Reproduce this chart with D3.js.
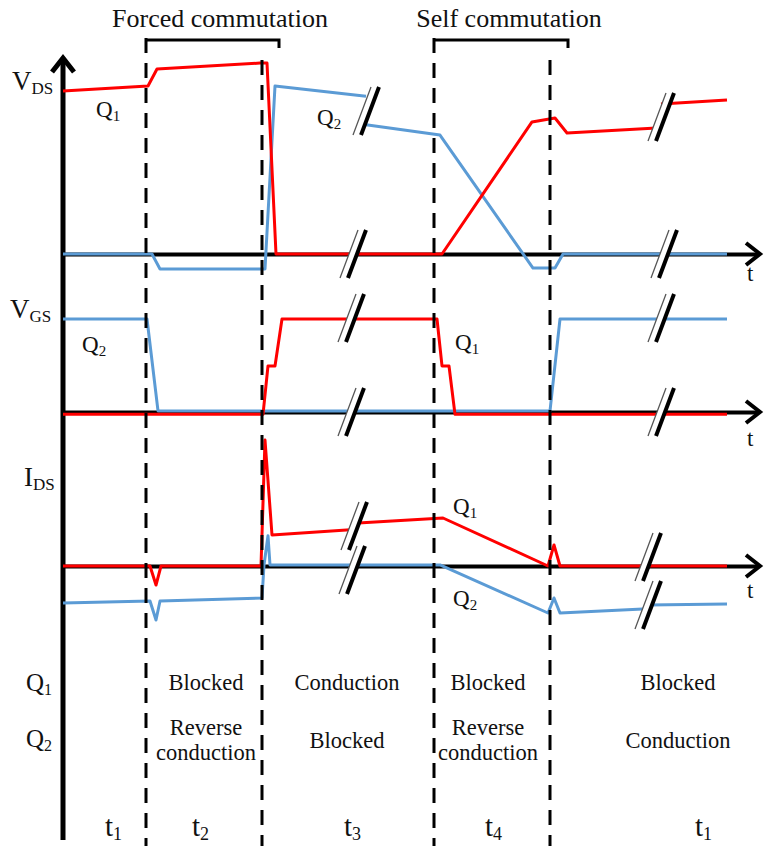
<!DOCTYPE html>
<html>
<head>
<meta charset="utf-8">
<script src="https://cdn.jsdelivr.net/npm/d3@7/dist/d3.min.js"></script>
<style>
  body { margin: 0; background: #fff; }
</style>
</head>
<body>
<svg id="chart" width="765" height="846"></svg>
<script>
// time in arbitrary units, 0 = vertical axis; null value = gap (axis break)
const vdsQ1 = [[0,0.858],[85,0.884],[94,0.974],[197,1.005],[204,1.005],[213,0],[379,0],[469,0.695],[492,0.716],[504,0.637],[598,0.664],[598,null],[598,0.79],[664,0.811]];
const vdsQ2 = [[0,0],[89,0],[97,-0.079],[202,-0.079],[212,0.884],[303,0.83],[303,null],[303,0.68],[377,0.626],[470,-0.074],[492,-0.074],[500,0],[664,0]];

const vgsQ1 = [[0,-0.025],[200,-0.025],[205,0.495],[212,0.495],[219,1],[374,1],[379,0.495],[386,0.495],[392,-0.025],[664,-0.025]];
const vgsQ2 = [[0,1],[84,1],[95,0.012],[487,0.012],[497,1],[664,1]];

const idsQ1 = [[0,0],[87,0],[93,-0.151],[98,0],[198,0],[202,1],[209,0.246],[291,0.29],[291,null],[291,0.34],[380,0.381],[485,0],[491,0.167],[497,0],[664,0]];
const idsQ2 = [[0,-0.294],[87,-0.278],[93,-0.429],[97,-0.278],[199,-0.254],[201,0.008],[205,0.24],[207,0.008],[377,0.008],[485,-0.373],[491,-0.254],[497,-0.373],[585,-0.34],[585,null],[585,-0.31],[664,-0.302]];

// axis breaks: panel, time, value
const breaks = [
  ['vds',303,0.753],['vds',290,0],['vds',598,0.721],['vds',601,0],
  ['vgs',288,1.01],['vgs',288,0],['vgs',598,1.01],['vgs',598,0],
  ['ids',291,0.317],['ids',289,-0.032],['ids',585,0.071],['ids',585,-0.31]
];

// phase boundaries (dashed lines) and commutation brackets
const boundaries = [83, 199, 371, 487];
const brackets = [
  {label: 'Forced commutation', from: 83, to: 216, mid: 157},
  {label: 'Self commutation', from: 371, to: 505, mid: 446}
];

// state table
const phaseLabels = ['1','2','3','4','1'];
const phaseCenters = [50, 137, 289, 430, 640];
const stateCenters = [null, 143, 284, 425, 615];
const q1States = ['', 'Blocked', 'Conduction', 'Blocked', 'Blocked'];
const q2States = [[], ['Reverse','conduction'], ['Blocked'], ['Reverse','conduction'], ['Conduction']];

const RED = '#ff0000', BLUE = '#5b9bd5';
const FONT = "'Liberation Serif', 'Times New Roman', 'DejaVu Serif', serif";

const svg = d3.select('#chart').attr('font-family', FONT);
const x = d3.scaleLinear().domain([0, 700]).range([63, 763]);
const y = {
  vds: d3.scaleLinear().domain([0, 1]).range([254, 64]),
  vgs: d3.scaleLinear().domain([0, 1]).range([412, 319]),
  ids: d3.scaleLinear().domain([0, 1]).range([566, 440])
};

function label(px, py, size) {
  return svg.append('text').attr('x', px).attr('y', py)
    .attr('font-family', FONT).attr('font-size', size).attr('fill', '#111');
}

// time axes
Object.keys(y).forEach(k => {
  const y0 = y[k](0);
  const ax = svg.append('g')
    .attr('transform', `translate(0,${y0})`)
    .call(d3.axisBottom(x.copy().range([63, 757])).ticks(0).tickSizeOuter(0));
  ax.select('.domain').attr('stroke', '#000').attr('stroke-width', 4);
  svg.append('path')
    .attr('d', `M746,${y0 - 11}L760,${y0}L746,${y0 + 11}`)
    .attr('fill', 'none').attr('stroke', '#000').attr('stroke-width', 4);
});
label(747, 281, 23).text('t');
label(747, 446, 23).text('t');
label(747, 598, 23).text('t');

// vertical axis
svg.append('line').attr('x1', 63).attr('x2', 63).attr('y1', 60).attr('y2', 840)
  .attr('stroke', '#000').attr('stroke-width', 5);
svg.append('path').attr('d', 'M52,72L63,58L74,72')
  .attr('fill', 'none').attr('stroke', '#000').attr('stroke-width', 5);

// curves
function drawCurve(data, panel, color) {
  const line = d3.line()
    .defined(d => d[1] !== null)
    .x(d => x(d[0]))
    .y(d => y[panel](d[1]));
  svg.append('path').datum(data)
    .attr('d', line)
    .attr('fill', 'none')
    .attr('stroke', color)
    .attr('stroke-width', 3)
    .attr('stroke-linejoin', 'round');
}
drawCurve(vdsQ2, 'vds', BLUE);
drawCurve(vdsQ1, 'vds', RED);
drawCurve(vgsQ2, 'vgs', BLUE);
drawCurve(vgsQ1, 'vgs', RED);
drawCurve(idsQ2, 'ids', BLUE);
drawCurve(idsQ1, 'ids', RED);

// break marks
breaks.forEach(([panel, t, v]) => {
  const cx = x(t), cy = y[panel](v);
  const g = svg.append('g').attr('transform', `translate(${cx},${cy})`);
  g.append('path').attr('d', 'M-13,24L5,-24L13,-24L-5,24Z').attr('fill', '#fff');
  g.append('path').attr('d', 'M-13,24L5,-24').attr('stroke', '#555').attr('stroke-width', 1.3);
  g.append('path').attr('d', 'M-5,24L13,-24').attr('stroke', '#000').attr('stroke-width', 4);
});

// dashed phase boundaries
boundaries.forEach((t, i) => {
  svg.append('line')
    .attr('x1', x(t)).attr('x2', x(t))
    .attr('y1', i % 2 === 0 ? 38 : 60).attr('y2', 846)
    .attr('stroke', '#000').attr('stroke-width', 3)
    .attr('stroke-dasharray', '15,10');
});

// brackets
brackets.forEach(b => {
  svg.append('path')
    .attr('d', `M${x(b.from)},40L${x(b.to)},40L${x(b.to)},48`)
    .attr('fill', 'none').attr('stroke', '#000').attr('stroke-width', 3);
  label(x(b.mid), 27, 26).attr('text-anchor', 'middle').text(b.label);
});

// labels with subscripts
function subLabel(px, py, main, sub, size, subSize, shift) {
  const t = label(px, py, size);
  t.append('tspan').text(main);
  t.append('tspan').attr('font-size', subSize).attr('dy', shift).text(sub);
  return t;
}
subLabel(12, 90, 'V', 'DS', 27, 17, 4);
subLabel(10, 318, 'V', 'GS', 27, 17, 4);
subLabel(24, 486, 'I', 'DS', 27, 17, 4);

subLabel(96, 117, 'Q', '1', 23, 15, 4);
subLabel(317, 125, 'Q', '2', 23, 15, 4);
subLabel(82, 352, 'Q', '2', 23, 15, 4);
subLabel(455, 350, 'Q', '1', 23, 15, 4);
subLabel(453, 514, 'Q', '1', 23, 15, 4);
subLabel(453, 606, 'Q', '2', 23, 15, 4);

// state table
subLabel(26, 691, 'Q', '1', 25, 16, 4);
subLabel(26, 747, 'Q', '2', 25, 16, 4);

q1States.forEach((s, i) => {
  if (!s) return;
  label(x(stateCenters[i]), 690, 22.5).attr('text-anchor', 'middle').text(s);
});
q2States.forEach((lines, i) => {
  if (!lines.length) return;
  const base = lines.length === 1 ? [748] : [735, 760];
  lines.forEach((s, j) => {
    label(x(stateCenters[i]), base[j], 22.5).attr('text-anchor', 'middle').text(s);
  });
});
phaseLabels.forEach((p, i) => {
  subLabel(x(phaseCenters[i]) - 8, 836, 't', p, 29, 18, 4);
});
</script>
</body>
</html>
